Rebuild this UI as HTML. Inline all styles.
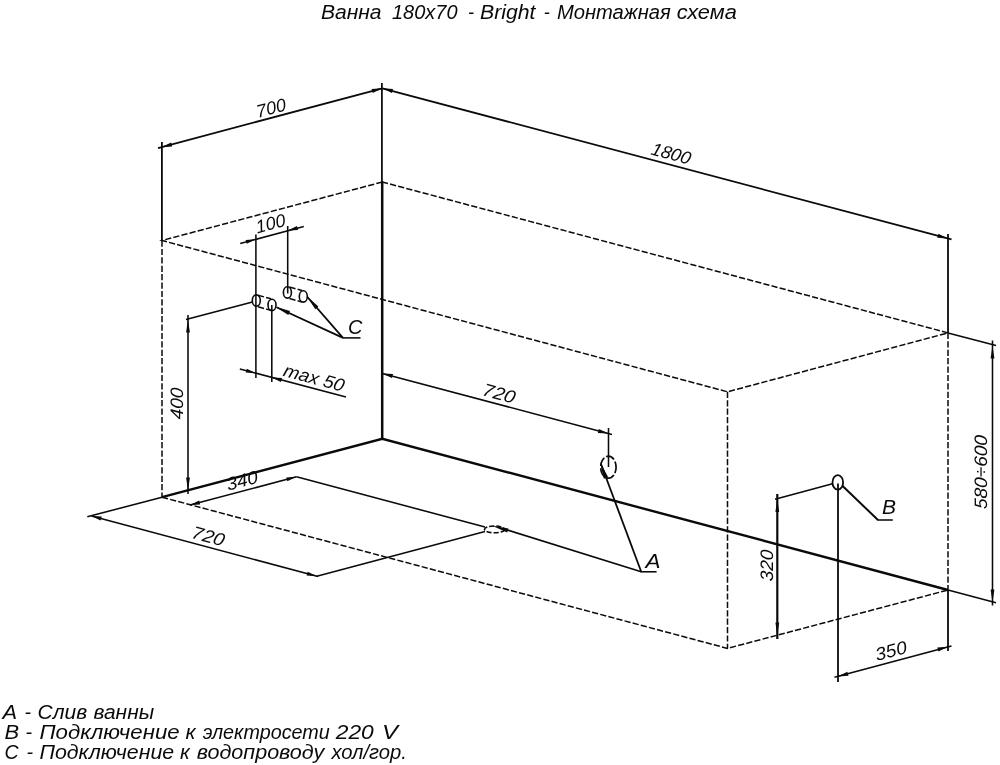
<!DOCTYPE html>
<html><head><meta charset="utf-8">
<style>
html,body{margin:0;padding:0;background:#fff;}
body{width:1000px;height:765px;overflow:hidden;font-family:"Liberation Sans",sans-serif;}
svg{display:block;position:absolute;left:0;top:0;filter:grayscale(1) blur(0.35px);}
text{font-family:"Liberation Sans",sans-serif;font-style:italic;fill:#0a0a0a;}
.t{stroke:#0a0a0a;stroke-width:2.4;fill:none;}
.m{stroke:#0a0a0a;stroke-width:1.8;fill:none;}
.n{stroke:#0a0a0a;stroke-width:1.55;fill:none;}
.d{stroke:#0a0a0a;stroke-width:1.5;fill:none;stroke-dasharray:6.2 2.2;}
.a{fill:#0a0a0a;stroke:none;}
</style></head><body>
<svg width="1000" height="765" viewBox="0 0 1000 765">
<!-- TITLE -->
<text x="320.9" y="18.8" font-size="19.6" textLength="60.7" lengthAdjust="spacingAndGlyphs">Ванна</text>
<text x="392.0" y="18.8" font-size="19.6" textLength="65.5" lengthAdjust="spacingAndGlyphs">180x70</text>
<text x="467.9" y="18.8" font-size="19.6" textLength="6.1" lengthAdjust="spacingAndGlyphs">-</text>
<text x="480.0" y="18.8" font-size="19.6" textLength="55.5" lengthAdjust="spacingAndGlyphs">Bright</text>
<text x="543.7" y="18.8" font-size="19.6" textLength="6.1" lengthAdjust="spacingAndGlyphs">-</text>
<text x="556.9" y="18.8" font-size="19.6" textLength="113.9" lengthAdjust="spacingAndGlyphs">Монтажная</text>
<text x="676.8" y="18.8" font-size="19.6" textLength="60.0" lengthAdjust="spacingAndGlyphs">схема</text>
<!-- LEGEND -->
<text x="2.5" y="719.4" font-size="19.6" textLength="14.6" lengthAdjust="spacingAndGlyphs">А</text>
<text x="24.5" y="719.4" font-size="19.6" textLength="6.6" lengthAdjust="spacingAndGlyphs">-</text>
<text x="37.5" y="719.4" font-size="19.6" textLength="49.6" lengthAdjust="spacingAndGlyphs">Слив</text>
<text x="93.5" y="719.4" font-size="19.6" textLength="60.6" lengthAdjust="spacingAndGlyphs">ванны</text>
<text x="4.5" y="738.8" font-size="19.6" textLength="14.6" lengthAdjust="spacingAndGlyphs">В</text>
<text x="25.5" y="738.8" font-size="19.6" textLength="6.6" lengthAdjust="spacingAndGlyphs">-</text>
<text x="39.5" y="738.8" font-size="19.6" textLength="140.1" lengthAdjust="spacingAndGlyphs">Подключение</text>
<text x="185.5" y="738.8" font-size="19.6" textLength="10.1" lengthAdjust="spacingAndGlyphs">к</text>
<text x="202.7" y="738.8" font-size="19.6" textLength="127.1" lengthAdjust="spacingAndGlyphs">электросети</text>
<text x="335.8" y="738.8" font-size="19.6" textLength="38.0" lengthAdjust="spacingAndGlyphs">220</text>
<text x="382.0" y="738.8" font-size="19.6" textLength="16.0" lengthAdjust="spacingAndGlyphs">V</text>
<text x="4.5" y="759.1" font-size="19.6" textLength="14.1" lengthAdjust="spacingAndGlyphs">С</text>
<text x="26.5" y="759.1" font-size="19.6" textLength="6.6" lengthAdjust="spacingAndGlyphs">-</text>
<text x="39.5" y="759.1" font-size="19.6" textLength="134.6" lengthAdjust="spacingAndGlyphs">Подключение</text>
<text x="180.0" y="759.1" font-size="19.6" textLength="9.8" lengthAdjust="spacingAndGlyphs">к</text>
<text x="196.7" y="759.1" font-size="19.6" textLength="127.6" lengthAdjust="spacingAndGlyphs">водопроводу</text>
<text x="331.4" y="759.1" font-size="19.6" textLength="75.4" lengthAdjust="spacingAndGlyphs">хол/гор.</text>
<!-- BOX solid -->
<line class="m" style="stroke-width:1.75" x1="381.9" y1="83" x2="381.9" y2="182"/><line class="t" style="stroke-width:2.5" x1="382.2" y1="181.5" x2="382.2" y2="438.8"/>
<line class="m" x1="161.9" y1="142" x2="161.9" y2="240.5"/>
<line class="m" x1="948" y1="234" x2="948" y2="332.9"/>
<line class="m" x1="948" y1="590" x2="948" y2="651"/>
<polyline class="t" points="162,497.2 382.3,438.8 948,590"/>
<line class="n" x1="162" y1="497.2" x2="87.3" y2="516.8"/>
<line class="n" x1="948" y1="590" x2="996" y2="602.8"/>
<line class="m" x1="158" y1="148.1" x2="382.3" y2="88.3"/>
<line class="m" x1="382.3" y1="88.3" x2="951.5" y2="239.4"/>
<!-- dashed -->
<polygon class="d" points="382.3,182 162,240.5 727.5,391.8 948,332.9"/>
<line class="d" x1="162" y1="240.5" x2="162" y2="497"/>
<line class="d" x1="727.5" y1="391.8" x2="727.5" y2="648.4"/>
<line class="d" x1="948" y1="332.9" x2="948" y2="590"/>
<polyline class="d" points="162,497.2 727.5,648.4 948,590"/>
<!-- arrows top dims -->
<polygon class="a" points="161.5,147.2 171.1,142.5 172.2,146.5"/>
<polygon class="a" points="382.3,88.3 372.7,93.0 371.6,89.0"/>
<polygon class="a" points="382.3,88.3 393.0,89.0 391.9,93.0"/>
<polygon class="a" points="948.0,238.5 937.3,237.8 938.4,233.8"/>
<!-- 580-600 -->
<line class="n" x1="948" y1="332.9" x2="996" y2="345.6"/>
<line class="n" x1="992.5" y1="340.5" x2="992.5" y2="605.5"/>
<polygon class="a" points="992.5,345.4 994.4,358.4 990.6,358.4"/>
<polygon class="a" points="992.5,602.4 990.6,589.4 994.4,589.4"/>
<!-- 350 -->
<line class="m" x1="838" y1="483.4" x2="838" y2="682"/>
<line class="n" x1="834.5" y1="677.3" x2="951.5" y2="645.9"/>
<polygon class="a" points="837.8,676.4 847.4,671.7 848.5,675.7"/>
<polygon class="a" points="948.0,646.8 938.4,651.5 937.3,647.5"/>
<!-- 320 -->
<line class="t" style="stroke-width:2.2" x1="777.3" y1="494" x2="777.3" y2="639"/>
<line class="n" x1="775" y1="499.2" x2="832.5" y2="483.8"/>
<polygon class="a" points="777.3,499.0 779.2,512.0 775.4,512.0"/>
<polygon class="a" points="777.3,635.5 775.4,622.5 779.2,622.5"/>
<!-- B -->
<ellipse class="m" cx="837.8" cy="482.4" rx="5.3" ry="7.3"/>
<polyline class="m" style="stroke-width:2" points="842.6,486 878,520"/><line class="n" x1="877.3" y1="520" x2="892.8" y2="520"/>
<!-- A -->
<line class="n" x1="382.3" y1="373.4" x2="612" y2="434.5"/>
<line class="n" x1="608.5" y1="428" x2="608.5" y2="467"/>
<polygon class="a" points="382.3,373.4 393.0,374.1 391.9,378.1"/>
<polygon class="a" points="608.5,433.6 597.8,432.9 598.9,428.9"/>
<ellipse class="m" style="stroke-width:1.7" cx="608.4" cy="467.2" rx="7.7" ry="11" stroke-dasharray="9 2.2" stroke-dashoffset="3"/>
<polyline class="m" points="601,464 641.2,571.8"/><line class="n" x1="640.6" y1="571.8" x2="656.6" y2="571.8"/>
<polygon class="a" points="600.0,462.0 608.1,477.1 603.8,478.7"/>
<line class="n" style="stroke-width:1.7" x1="641.2" y1="571.8" x2="506" y2="529.6"/>
<!-- drain -->
<ellipse class="n" cx="494.5" cy="529.4" rx="10" ry="3.4" stroke-dasharray="5 2"/>
<polygon class="a" points="491.5,525.6 508.4,528.4 507.2,532.6"/>
<line class="n" x1="296.5" y1="476.8" x2="485" y2="527"/>
<line class="n" x1="316.8" y1="576.2" x2="485" y2="531.5"/>
<!-- 340 -->
<line class="n" x1="190" y1="505" x2="296.5" y2="476.8"/>
<polygon class="a" points="190.0,505.0 199.2,500.5 200.2,504.4"/>
<polygon class="a" points="296.5,476.8 287.3,481.3 286.3,477.4"/>
<!-- 720b -->
<line class="n" x1="91.5" y1="515.9" x2="318" y2="576.5"/>
<polygon class="a" points="91.5,515.9 101.7,516.5 100.6,520.4"/>
<polygon class="a" points="316.8,576.2 306.6,575.6 307.7,571.7"/>
<!-- 400 -->
<line class="n" x1="188" y1="315" x2="188" y2="494"/>
<line class="n" x1="186" y1="319.5" x2="252.5" y2="302"/>
<polygon class="a" points="188.0,319.5 189.9,332.5 186.1,332.5"/>
<polygon class="a" points="188.0,490.5 186.1,477.5 189.9,477.5"/>
<!-- 100 -->
<line class="n" x1="240.2" y1="243.6" x2="303.8" y2="226.4"/>
<line class="n" x1="255.9" y1="234.4" x2="255.9" y2="378"/>
<line class="n" x1="287.7" y1="226" x2="287.7" y2="293.5"/>
<line class="n" x1="271.8" y1="305" x2="271.8" y2="382"/>
<polygon class="a" points="255.9,239.3 246.7,243.8 245.7,239.9"/>
<polygon class="a" points="287.8,230.6 297.0,226.1 298.0,230.0"/>
<!-- max50 -->
<line class="n" x1="239.8" y1="368.9" x2="346" y2="397.1"/>
<polygon class="a" points="255.9,373.2 245.7,372.6 246.8,368.7"/>
<polygon class="a" points="271.8,377.4 282.0,378.0 280.9,381.9"/>
<!-- pipes -->
<ellipse class="n" style="stroke-width:1.6" cx="256.3" cy="300.6" rx="4" ry="5.7"/>
<ellipse class="n" style="stroke-width:1.6" cx="272" cy="304.9" rx="4" ry="5.7"/>
<ellipse class="n" style="stroke-width:1.6" cx="287.4" cy="292.4" rx="4" ry="5.7"/>
<ellipse class="n" style="stroke-width:1.6" cx="303.3" cy="296.4" rx="4" ry="5.7"/>
<line class="d" x1="258" y1="295.2" x2="271" y2="298.8" stroke-dasharray="4 2"/>
<line class="d" x1="258" y1="306.8" x2="271" y2="310.4" stroke-dasharray="4 2"/>
<line class="d" x1="289.5" y1="287" x2="302" y2="290.5" stroke-dasharray="4 2"/>
<line class="d" x1="289.5" y1="298.5" x2="302" y2="302" stroke-dasharray="4 2"/>
<!-- C leader -->
<polyline class="m" points="276.5,307.3 343,337.9"/>
<polyline class="n" points="343,337.9 360.5,337.9"/>
<line class="m" x1="307.4" y1="297" x2="343" y2="337.9"/>
<polygon class="a" points="275.5,306.8 290.0,311.1 288.3,315.0"/>
<polygon class="a" points="307.0,296.5 318.4,306.4 315.3,309.2"/>
<!-- TEXT LABELS -->
<text transform="translate(271,107.7) rotate(-15) skewX(-3)" text-anchor="middle" y="6.44" font-size="18">700</text>
<text transform="translate(671.3,153.2) rotate(15) skewX(-3)" text-anchor="middle" y="6.44" font-size="18">1800</text>
<text transform="translate(270.5,223.2) rotate(-15) skewX(-3)" text-anchor="middle" y="6.44" font-size="18">100</text>
<text transform="translate(314.3,377.6) rotate(15) skewX(-3)" text-anchor="middle" y="6.44" font-size="18" textLength="62" lengthAdjust="spacingAndGlyphs">max 50</text>
<text transform="translate(499.2,393.2) rotate(15) skewX(-3)" text-anchor="middle" y="6.44" font-size="18" textLength="33" lengthAdjust="spacingAndGlyphs">720</text>
<text transform="translate(242,480.3) rotate(-15) skewX(-3)" text-anchor="middle" y="6.44" font-size="18" textLength="32" lengthAdjust="spacingAndGlyphs">340</text>
<text transform="translate(208.5,536) rotate(15) skewX(-3)" text-anchor="middle" y="6.44" font-size="18" textLength="33" lengthAdjust="spacingAndGlyphs">720</text>
<text transform="translate(177,403.4) rotate(-90) skewX(-3)" text-anchor="middle" y="6.44" font-size="18" textLength="31.5" lengthAdjust="spacingAndGlyphs">400</text>
<text transform="translate(766.7,565.4) rotate(-90) skewX(-3)" text-anchor="middle" y="6.44" font-size="18" textLength="31.5" lengthAdjust="spacingAndGlyphs">320</text>
<text transform="translate(981,472) rotate(-90) skewX(-3)" text-anchor="middle" y="6.44" font-size="18" textLength="74" lengthAdjust="spacingAndGlyphs">580÷600</text>
<text transform="translate(890.9,650.5) rotate(-15) skewX(-3)" text-anchor="middle" y="6.44" font-size="18" textLength="32" lengthAdjust="spacingAndGlyphs">350</text>
<text x="645.6" y="567.5" font-size="20.4" textLength="15" lengthAdjust="spacingAndGlyphs">A</text>
<text x="882" y="514.4" font-size="20" textLength="14" lengthAdjust="spacingAndGlyphs">B</text>
<text x="348" y="333.7" font-size="20">C</text>
</svg>
</body></html>
